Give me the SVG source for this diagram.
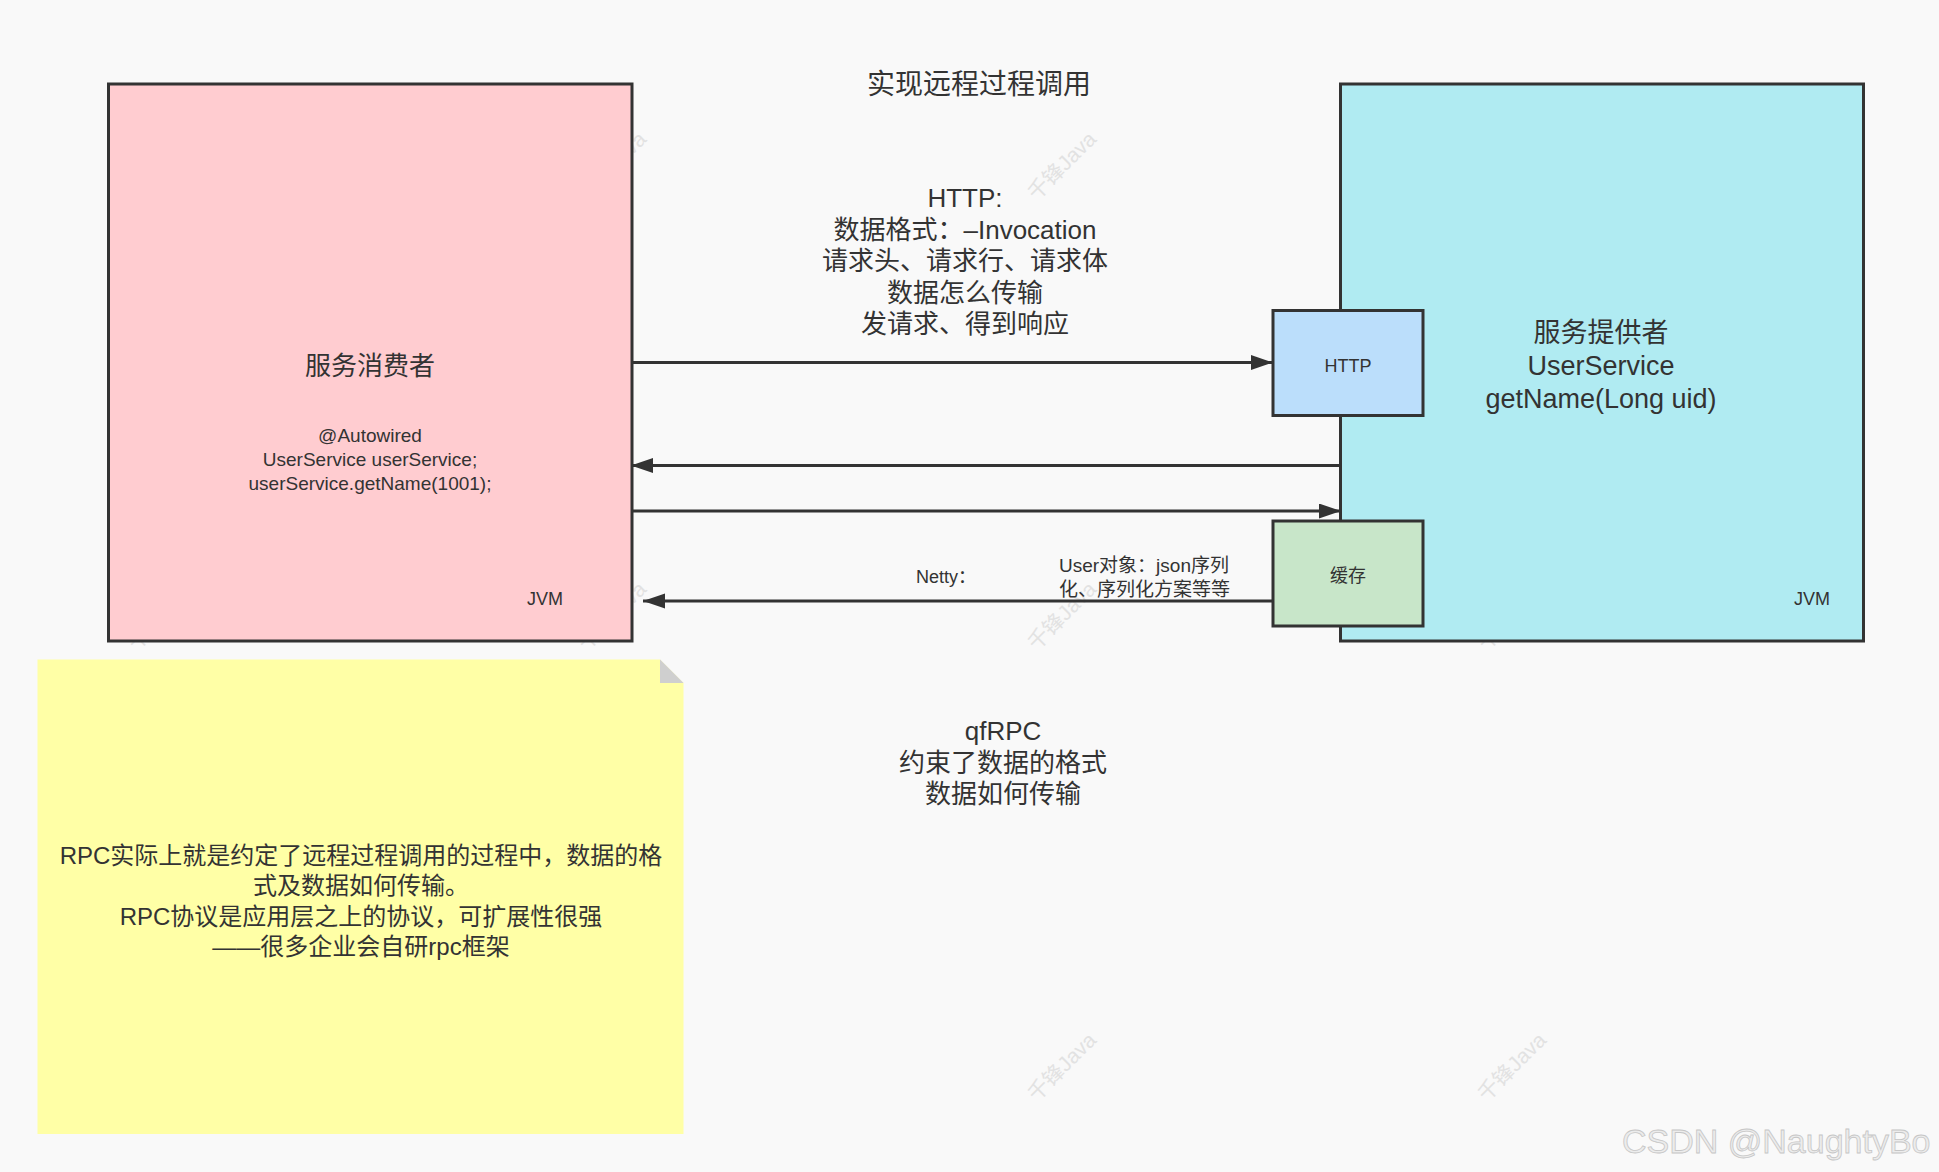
<svg xmlns="http://www.w3.org/2000/svg" width="1939" height="1172" viewBox="0 0 1939 1172">
<defs>
<marker id="arrow" markerUnits="userSpaceOnUse" markerWidth="24" markerHeight="16" refX="22" refY="7.5" orient="auto">
<path d="M0,0 L22,7.5 L0,15 z" fill="#333333"/>
</marker>
</defs>
<style>
text{font-family:"Liberation Sans","Noto Sans CJK SC",sans-serif;fill:#333333;}
.box{stroke:#333333;stroke-width:3;}
.c{text-anchor:middle;}
.lg{font-size:26px;}
.sm{font-size:18px;}
.code{font-size:19px;}
.conn{stroke:#333333;stroke-width:3;fill:none;marker-end:url(#arrow);}
.wm{font-size:21px;fill:#e2e2e2;text-anchor:middle;}
</style>
<rect x="0" y="0" width="1939" height="1172" fill="#f9f9f9"/>
<g id="watermarks">
<text class="wm" transform="translate(162,166) rotate(-45)" dy="7">千锋Java</text>
<text class="wm" transform="translate(612,166) rotate(-45)" dy="7">千锋Java</text>
<text class="wm" transform="translate(1062,166) rotate(-45)" dy="7">千锋Java</text>
<text class="wm" transform="translate(1512,166) rotate(-45)" dy="7">千锋Java</text>
<text class="wm" transform="translate(162,616) rotate(-45)" dy="7">千锋Java</text>
<text class="wm" transform="translate(612,616) rotate(-45)" dy="7">千锋Java</text>
<text class="wm" transform="translate(1062,616) rotate(-45)" dy="7">千锋Java</text>
<text class="wm" transform="translate(1512,616) rotate(-45)" dy="7">千锋Java</text>
<text class="wm" transform="translate(1062,1067) rotate(-45)" dy="7">千锋Java</text>
<text class="wm" transform="translate(1512,1067) rotate(-45)" dy="7">千锋Java</text>
</g>
<g id="title">
<text class="c" x="979" y="94" font-size="28">实现远程过程调用</text>
</g>
<g id="consumer">
<rect class="box" x="108.5" y="84" width="523.5" height="557" fill="#ffccd0"/>
<text class="c lg" x="370" y="375">服务消费者</text>
<text class="c code" x="370" y="442">@Autowired</text>
<text class="c code" x="370" y="466">UserService userService;</text>
<text class="c code" x="370" y="490">userService.getName(1001);</text>
<text class="c sm" x="545" y="605">JVM</text>
</g>
<g id="provider">
<rect class="box" x="1340.5" y="84" width="523" height="557" fill="#b0ebf2"/>
<text class="c" x="1601" y="342" font-size="27">服务提供者</text>
<text class="c" x="1601" y="375" font-size="27">UserService</text>
<text class="c" x="1601" y="408" font-size="27">getName(Long uid)</text>
<text class="c sm" x="1812" y="605">JVM</text>
</g>
<g id="http">
<rect class="box" x="1273" y="310.5" width="150" height="105" fill="#bbdefb"/>
<text class="c sm" x="1348" y="372">HTTP</text>
</g>
<g id="cache">
<rect class="box" x="1273" y="521" width="150" height="105" fill="#c8e6c9"/>
<text class="c sm" x="1348" y="582">缓存</text>
</g>
<g id="connectors">
<line class="conn" x1="632" y1="362.5" x2="1273" y2="362.5"/>
<line class="conn" x1="1340" y1="465.5" x2="631" y2="465.5"/>
<line class="conn" x1="632" y1="511" x2="1341" y2="511"/>
<line class="conn" x1="1273" y1="601" x2="643" y2="601"/>
</g>
<g id="http-label">
<text class="c lg" x="965" y="207">HTTP:</text>
<text class="c lg" x="965" y="239">数据格式：–Invocation</text>
<text class="c lg" x="965" y="270">请求头、请求行、请求体</text>
<text class="c lg" x="965" y="302">数据怎么传输</text>
<text class="c lg" x="965" y="333">发请求、得到响应</text>
</g>
<g id="netty-label">
<text class="c sm" x="946" y="583">Netty：</text>
<text x="1059" y="572" font-size="19">User对象：json序列</text>
<text x="1059" y="596" font-size="19">化、序列化方案等等</text>
</g>
<g id="qfrpc-label">
<text class="c lg" x="1003" y="740">qfRPC</text>
<text class="c lg" x="1003" y="772">约束了数据的格式</text>
<text class="c lg" x="1003" y="803">数据如何传输</text>
</g>
<g id="note">
<path d="M37.5,659.5 L660,659.5 L683.5,683 L683.5,1134 L37.5,1134 z" fill="#ffffa6"/>
<path d="M660,659.5 L660,683 L683.5,683 z" fill="#cfcfcf"/>
<text class="c" x="361" y="864" font-size="24">RPC实际上就是约定了远程过程调用的过程中，数据的格</text>
<text class="c" x="361" y="894" font-size="24">式及数据如何传输。</text>
<text class="c" x="361" y="925" font-size="24">RPC协议是应用层之上的协议，可扩展性很强</text>
<text class="c" x="361" y="955" font-size="24">——很多企业会自研rpc框架</text>
</g>
<g id="csdn-watermark">
<text x="1622" y="1153" font-size="34" stroke="#c6c6c6" stroke-width="0.8" style="fill:#ececec">CSDN @NaughtyBo</text>
</g>
</svg>
